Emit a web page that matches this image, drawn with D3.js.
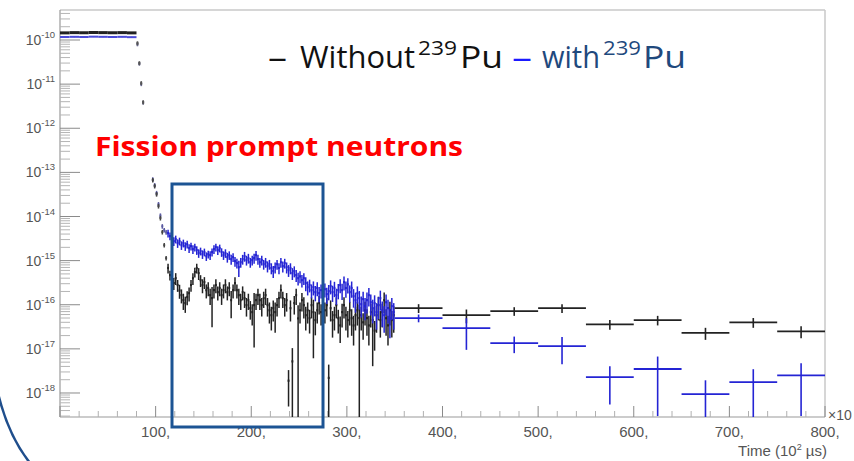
<!DOCTYPE html>
<html><head><meta charset="utf-8">
<script src="https://cdn.jsdelivr.net/npm/d3@7"></script>
<style>html,body{margin:0;padding:0;background:#fff;overflow:hidden}svg{display:block}</style>
</head><body>
<svg id="c" width="854" height="461"></svg>
<script>
// ---------- DATA (x in units of 10^2 µs) ----------
const decadeExponents = [-10,-11,-12,-13,-14,-15,-16,-17,-18];
const xTickLabels = ["100,","200,","300,","400,","500,","600,","700,","800,"];
const xTickValues = [100,200,300,400,500,600,700,800];

// plateau (bin edges)
const plateauEdges = [0,10,20,30,40,50,60,70,80];
const blackPlateau = [1.45e-10,1.47e-10,1.46e-10,1.48e-10,1.47e-10,1.46e-10,1.47e-10,1.45e-10];
const bluePlateau  = [1.17e-10,1.18e-10,1.17e-10,1.19e-10,1.18e-10,1.17e-10,1.18e-10,1.16e-10];

// fast drop after the pulse
const dropCenters = [81,83,85,87];
const blackDrop = [8.5e-11,3.0e-11,1.06e-11,3.9e-12];
const blueDrop  = [8.0e-11,2.9e-11,1.0e-11,3.8e-12];

// falling edge
const edgeCenters = [97,99,101,103,105,107,109,111];
const blackEdge = [6.7e-14,4.9e-14,3.2e-14,1.72e-14,9.2e-15,4.43e-15,2.24e-15,1.14e-15];
const blueEdge  = [6.9e-14,5.1e-14,3.4e-14,1.9e-14,1.05e-14,6.0e-15,4.9e-15,4.4e-15];

// fine bins, width 2, centres 113 ... 349
const fineFirstCenter = 113, fineWidth = 2;
const blackFine = [
 6.8e-16,4.7e-16,3.6e-16,3.1e-16,4.0e-16,2.8e-16,2.1e-16,1.65e-16,1.27e-16,1.09e-16,
 1.49e-16,1.83e-16,2.8e-16,4.0e-16,5.5e-16,6.8e-16,5.2e-16,3.6e-16,2.8e-16,3.25e-16,
 2.14e-16,2.4e-16,1.65e-16,1.41e-16,2.14e-16,2.8e-16,1.93e-16,2.4e-16,1.65e-16,2.14e-16,
 2.8e-16,1.93e-16,2.4e-16,1.27e-16,2.14e-16,3.1e-16,2.14e-16,1.65e-16,1.27e-16,1.93e-16,
 1.41e-16,9.8e-17,1.27e-16,8.35e-17,6.8e-17,9.8e-17,1.27e-16,1.65e-16,1.27e-16,9.8e-17,
 1.41e-16,1.65e-16,9.8e-17,7.5e-17,5.8e-17,8.35e-17,6.8e-17,9.8e-17,1.41e-16,2.14e-16,
 1.41e-16,9.8e-17,1.27e-16,1.9e-18,8.35e-17,5.2e-18,1.09e-16,1.65e-16,4.9e-17,7.5e-17,
 1.27e-16,9.8e-17,5.8e-17,7.5e-17,4.95e-17,9.8e-17,6.8e-17,4.5e-17,7.5e-17,1.09e-16,
 6.8e-17,4.95e-17,7.5e-17,9.8e-17,2.2e-18,8.35e-17,4.5e-17,5.8e-17,9.8e-17,4.95e-17,
 3.4e-17,6.8e-17,9.8e-17,5.8e-17,4.5e-17,7.5e-17,4.95e-17,3.4e-17,5.8e-17,7.5e-17,
 5.0e-17,5.8e-17,4.0e-17,7.5e-17,4.95e-17,3.4e-17,6.8e-17,4.5e-17,2.6e-17,5.8e-17,
 9.8e-17,4.5e-17,6.8e-17,1.27e-16,4.95e-17,3.4e-17,7.5e-17,4.5e-17,5.8e-17];
const blackFineRelErr = [
 .25,.25,.3,.3,.3,.3,.35,.35,.4,.4,
 .35,.35,.3,.3,.25,.25,.3,.3,.35,.3,
 .35,.35,.4,.78,.35,.35,.35,.35,.4,.35,
 .35,.35,.35,.61,.35,.35,.35,.4,.4,.35,
 .4,.45,.4,.45,.5,.89,.4,.4,.4,.45,
 .4,.4,.45,.5,.55,.5,.66,.45,.4,.35,
 .4,.45,.45,.74,.5,1,.45,.4,1,.5,
 .45,.5,.55,.5,.55,.5,.91,.55,.5,.45,
 .5,.55,.5,.45,1,.5,.6,.55,.5,.55,
 .6,.55,.5,.55,.6,.55,.6,.65,.55,.55,
 1,.55,.6,.55,.6,.65,.55,.91,.65,.6,
 .55,.6,.55,.5,.6,.65,.55,.6,.6];
const blueFine = [
 4.2e-15,3.6e-15,3.2e-15,2.76e-15,3.07e-15,2.49e-15,2.76e-15,2.24e-15,2.49e-15,2.13e-15,
 2.36e-15,1.92e-15,2.13e-15,1.82e-15,2.02e-15,1.73e-15,1.48e-15,1.64e-15,1.40e-15,1.56e-15,
 1.26e-15,1.40e-15,1.33e-15,1.56e-15,1.82e-15,2.02e-15,1.73e-15,1.92e-15,1.56e-15,1.33e-15,
 1.48e-15,1.20e-15,1.33e-15,1.08e-15,1.20e-15,9.7e-16,8.8e-16,7.1e-16,9.2e-16,1.08e-15,
 1.26e-15,1.03e-15,1.14e-15,9.2e-16,1.03e-15,1.14e-15,1.33e-15,1.08e-15,9.2e-16,1.03e-15,
 8.3e-16,9.2e-16,7.5e-16,8.3e-16,6.8e-16,5.8e-16,7.1e-16,8.3e-16,6.8e-16,9.2e-16,
 7.5e-16,8.8e-16,7.1e-16,6.1e-16,6.8e-16,5.2e-16,5.8e-16,4.7e-16,4.0e-16,4.4e-16,
 3.6e-16,4.0e-16,3.1e-16,2.5e-16,2.8e-16,2.14e-16,2.5e-16,1.93e-16,2.4e-16,1.83e-16,
 2.14e-16,1.65e-16,2.25e-16,1.74e-16,2.03e-16,2.64e-16,1.93e-16,2.4e-16,1.65e-16,2.14e-16,
 2.8e-16,2.14e-16,3.25e-16,2.4e-16,2.9e-16,1.93e-16,2.4e-16,1.56e-16,1.27e-16,1.83e-16,
 1.41e-16,1.03e-16,1.34e-16,9.3e-17,1.27e-16,1.65e-16,1.14e-16,8.4e-17,1.09e-16,6.8e-17,
 9.8e-17,1.41e-16,7.5e-17,5.8e-17,1.14e-16,8.4e-17,4.95e-17,9.3e-17,6.8e-17];
const blueFineRelErr = [
 .2,.2,.2,.22,.2,.22,.2,.22,.2,.22,
 .2,.22,.2,.22,.2,.22,.22,.2,.22,.2,
 .22,.2,.22,.2,.22,.2,.22,.2,.22,.22,
 .22,.25,.22,.25,.22,.25,.25,.4,.25,.25,
 .25,.25,.25,.25,.25,.25,.25,.25,.25,.25,
 .25,.25,.28,.25,.28,.3,.28,.25,.28,.25,
 .28,.25,.28,.3,.28,.3,.28,.3,.32,.3,
 .32,.3,.35,.35,.32,.35,.35,.38,.35,.38,
 .35,.4,.35,.4,.38,.35,.4,.38,.4,.38,
 .35,.4,.35,.4,.38,.42,.4,.45,.48,.42,
 .45,.5,.48,.52,.5,.45,.5,.55,.5,.6,
 .52,.48,.58,.6,.5,.55,.65,.52,.6];

// wide bins, width 50
const wideCenters = [375,425,475,525,575,625,675,725,775];
const blackWide    = [8.4e-17,5.8e-17,7.2e-17,8.4e-17,3.6e-17,4.5e-17,2.3e-17,4.0e-17,2.5e-17];
const blackWideErr = [1.9e-17,2.0e-17,1.6e-17,1.9e-17,0.9e-17,1.1e-17,0.7e-17,1.0e-17,0.75e-17];
const blueWide     = [5.0e-17,2.95e-17,1.35e-17,1.15e-17,2.3e-18,3.5e-18,9.4e-19,1.76e-18,2.5e-18];
const blueWideErr  = [1.0e-17,2.0e-17,0.55e-17,0.7e-17,1.75e-18,3.2e-18,1.0e-18,1.7e-18,2.2e-18];

// ---------- CHART ----------
const svg = d3.select("#c");
const L=60, R=825, T=10, B=417;
const x = d3.scaleLinear().domain([0,800]).range([L,R]);
const yMin = Math.pow(10,-18.544), yMax = Math.pow(10,-9.32);
const y = d3.scaleLog().domain([yMin,yMax]).range([B,T]);

svg.append("defs").append("clipPath").attr("id","pc")
  .append("rect").attr("x",L).attr("y",T).attr("width",R-L).attr("height",B-T);

// frame
svg.append("line").attr("x1",L).attr("x2",R).attr("y1",T).attr("y2",T).attr("stroke","#c8c8c8").attr("stroke-width",1.5);
svg.append("line").attr("x1",R).attr("x2",R).attr("y1",T).attr("y2",B).attr("stroke","#c8c8c8").attr("stroke-width",1.5);
svg.append("line").attr("x1",L).attr("x2",L).attr("y1",T).attr("y2",B).attr("stroke","#9a9a9a").attr("stroke-width",1.2);
svg.append("line").attr("x1",L).attr("x2",R).attr("y1",B).attr("y2",B).attr("stroke","#9a9a9a").attr("stroke-width",1.2);

// y ticks (log, inside)
const yt = svg.append("g");
for (let n=-19; n<=-9; n++) {
  for (let k=1; k<=9; k++) {
    const v = k*Math.pow(10,n);
    if (v < yMin || v > yMax) continue;
    const len = k===1 ? 20 : 10;
    yt.append("line").attr("x1",L).attr("x2",L+len).attr("y1",y(v)).attr("y2",y(v))
      .attr("stroke", k===1 ? "#8a8a8a" : "#b5b5b5").attr("stroke-width",1);
  }
}
decadeExponents.forEach(e => {
  const t = svg.append("text").attr("x",55).attr("y",y(Math.pow(10,e))+5)
    .attr("text-anchor","end").attr("font-family","Liberation Sans, Arial, sans-serif")
    .attr("font-size",14).attr("fill","#555");
  t.append("tspan").text("10");
  t.append("tspan").attr("dy",-7).attr("font-size",9.5).text(String(e));
});

// x ticks (inside)
const xt = svg.append("g");
for (let v=0; v<=800; v+=20) {
  const major = v%100===0;
  xt.append("line").attr("x1",x(v)).attr("x2",x(v)).attr("y1",B).attr("y2",B-(major?11:6))
    .attr("stroke",major?"#8a8a8a":"#b0b0b0").attr("stroke-width",1);
}
xTickValues.forEach((v,i)=>{
  svg.append("text").attr("x",x(v)).attr("y",437).attr("text-anchor","middle")
    .attr("font-family","Liberation Sans, Arial, sans-serif").attr("font-size",15)
    .attr("fill","#555").text(xTickLabels[i]);
});
svg.append("text").attr("x",828).attr("y",420).attr("font-family","Liberation Sans, Arial, sans-serif")
  .attr("font-size",14).attr("fill","#555").text("\u00d710");
const ttl = svg.append("text").attr("x",827).attr("y",456).attr("text-anchor","end")
  .attr("font-family","Liberation Sans, Arial, sans-serif").attr("font-size",15).attr("fill","#555");
ttl.append("tspan").text("Time (10");
ttl.append("tspan").attr("dy",-6).attr("font-size",9).text("2");
ttl.append("tspan").attr("dy",6).text(" \u00b5s)");

// histogram helper
function binsFromCenters(centers, width, vals, errs, rel){
  return centers.map((c,i)=>({lo:c-width/2, hi:c+width/2, v:vals[i], e: rel ? vals[i]*errs[i] : errs[i]}));
}
function binsFromEdges(edges, vals, relErr){
  return vals.map((v,i)=>({lo:edges[i], hi:edges[i+1], v:v, e:v*relErr}));
}
const plot = svg.append("g").attr("clip-path","url(#pc)");
function drawHist(bins, color, sw, swv){
  const g = plot.append("g");
  g.selectAll("line.h").data(bins).join("line").attr("class","h")
    .attr("x1",d=>x(d.lo)).attr("x2",d=>x(d.hi)).attr("y1",d=>y(d.v)).attr("y2",d=>y(d.v))
    .attr("stroke",color).attr("stroke-width",sw);
  g.selectAll("line.v").data(bins).join("line").attr("class","v")
    .attr("x1",d=>x((d.lo+d.hi)/2)).attr("x2",d=>x((d.lo+d.hi)/2))
    .attr("y1",d=>y(Math.min(d.v+d.e,yMax)))
    .attr("y2",d=> (d.v-d.e) > yMin ? y(d.v-d.e) : B)
    .attr("stroke",color).attr("stroke-width",swv);
}
const fineCenters = blackFine.map((_,i)=>fineFirstCenter + i*fineWidth);
const BLACK="#222", BLUE="#2424d4";

drawHist(binsFromEdges(plateauEdges, blackPlateau, 0.02), "#222", 3, 1);
drawHist(binsFromEdges(plateauEdges, bluePlateau, 0.02), "#4a4ad8", 2, 1);
drawHist(binsFromCenters(dropCenters,2,blueDrop,dropCenters.map(()=>0.1),true), "#6a6a90", 2.5, 1.5);
drawHist(binsFromCenters(dropCenters,2,blackDrop,dropCenters.map(()=>0.1),true), "#555", 2.5, 1.5);
drawHist(binsFromCenters(edgeCenters,2,blueEdge,edgeCenters.map(()=>0.12),true), "#5a5aa0", 2, 1.5);
drawHist(binsFromCenters(edgeCenters,2,blackEdge,edgeCenters.map(()=>0.12),true), "#444", 2, 1.5);
drawHist(binsFromCenters(fineCenters,fineWidth,blackFine,blackFineRelErr,true), BLACK, 2.2, 1.5);
drawHist(binsFromCenters(fineCenters,fineWidth,blueFine,blueFineRelErr,true), BLUE, 2.2, 1.5);
drawHist(binsFromCenters(wideCenters,50,blackWide,blackWideErr,false), BLACK, 1.8, 1.6);
drawHist(binsFromCenters(wideCenters,50,blueWide,blueWideErr,false), BLUE, 1.8, 1.6);

// annotations
svg.append("rect").attr("x",172).attr("y",184).attr("width",151).attr("height",243)
  .attr("fill","none").attr("stroke","#1c5494").attr("stroke-width",3);
svg.append("path").attr("d","M -2 393 Q 8 435 30 463").attr("fill","none")
  .attr("stroke","#1f4e8c").attr("stroke-width",2.5);

svg.append("text").attr("x",95).attr("y",156).attr("font-family","Open Sans, Liberation Sans, sans-serif")
  .attr("font-weight","bold").attr("font-size",26).attr("fill","#ff0000")
  .attr("textLength",368).attr("lengthAdjust","spacingAndGlyphs").text("Fission prompt neutrons");

const LF = "Open Sans, Liberation Sans, sans-serif";
function lt(xp, yp, size, color, txt, len){
  const t = svg.append("text").attr("x",xp).attr("y",yp).attr("font-family",LF)
    .attr("font-size",size).attr("fill",color).text(txt);
  if (len) t.attr("textLength",len).attr("lengthAdjust","spacingAndGlyphs");
  return t;
}
lt(268,68,31,"#111","\u2013",19);
lt(300,68,31,"#111","Without",115);
lt(418,55,20,"#111","239",39);
lt(460,68,31,"#111","Pu",43);
lt(512,68,31,"#1a1aff","\u2013",20);
lt(542,68,31,"#1f497d","with",58);
lt(603,55,20,"#1f497d","239",38);
lt(643,68,31,"#1f497d","Pu",43);
</script></body></html>
